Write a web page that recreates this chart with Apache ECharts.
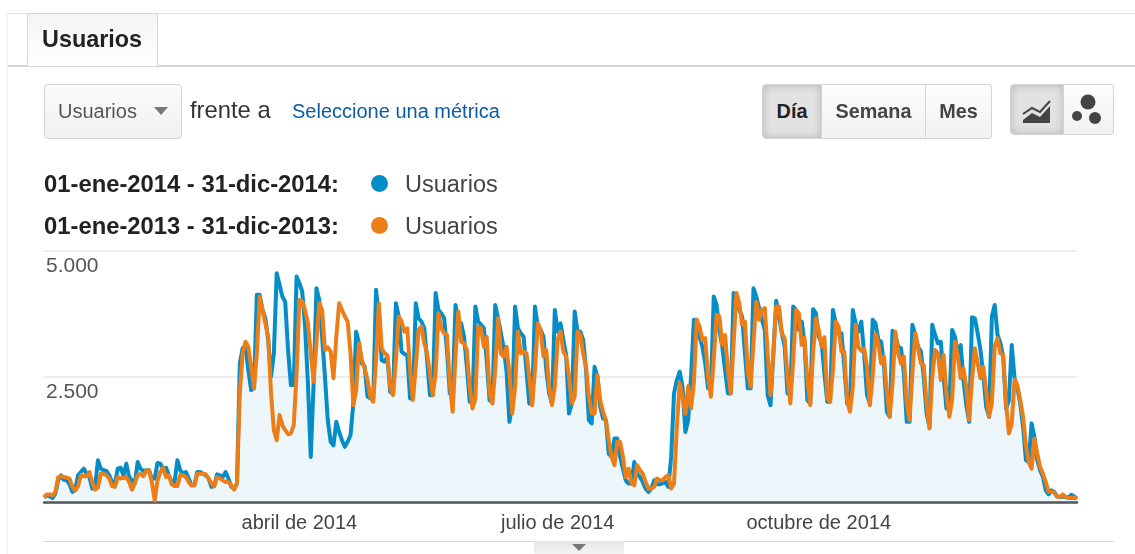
<!DOCTYPE html>
<html>
<head>
<meta charset="utf-8">
<title>Usuarios</title>
<script src="https://cdn.jsdelivr.net/npm/echarts@6/dist/echarts.min.js"></script>
<style>
  html, body { margin: 0; padding: 0; background: #fff; }
  body { width: 1135px; height: 554px; overflow: hidden; position: relative; font-family: "Liberation Sans", Arial, sans-serif; }
  #chart { position: absolute; left: 0; top: 0; width: 1135px; height: 554px; }
  .abs { position: absolute; white-space: nowrap; }
  .line { position: absolute; background: #e0e0e0; }
  .tab { left: 27px; top: 13px; width: 131px; height: 53px; box-sizing: border-box; border: 1px solid #d9d9d9; border-bottom: 0; border-radius: 3px 3px 0 0; background: linear-gradient(#f4f4f4, #fff); z-index: 2; }
  .tabText { left: 42px; top: 25px; font-size: 23.4px; line-height: 28px; font-weight: bold; color: #222; z-index: 3; }
  .select { left: 44px; top: 84px; width: 138px; height: 55px; box-sizing: border-box; border: 1px solid #d4d4d4; border-radius: 4px; background: linear-gradient(#fbfbfb, #f0f0f0); }
  .selectText { left: 58px; top: 99px; font-size: 20px; line-height: 24px; color: #555; }
  .arrow { width: 0; height: 0; border-left: 7px solid transparent; border-right: 7px solid transparent; border-top: 8px solid #777; }
  .frente { left: 190px; top: 96px; font-size: 23.8px; line-height: 28px; color: #333; }
  .link { left: 292px; top: 99px; font-size: 20px; line-height: 24px; color: #0b5ca5; }
  .btn { top: 84px; height: 55px; box-sizing: border-box; border: 1px solid #d4d4d4; background: linear-gradient(#fdfdfd, #f1f1f1); font-size: 19.8px; font-weight: bold; color: #444; text-align: center; line-height: 53px; }
  .btn.on { background: #e2e2e2; box-shadow: inset 0 0 8px #b5b5b5; color: #222; }
  .dateText { left: 44px; font-size: 23.8px; line-height: 28px; font-weight: bold; color: #222; }
  .dot { left: 371px; width: 17px; height: 17px; border-radius: 50%; }
  .legendText { left: 405px; font-size: 23.5px; line-height: 28px; color: #444; }
</style>
</head>
<body>
<div id="chart"></div>

<div class="line" style="left:7px;top:13px;width:1128px;height:1px"></div>
<div class="line" style="left:7px;top:65px;width:1128px;height:2px;background:#d5d5d5"></div>
<div class="line" style="left:7px;top:13px;width:1px;height:541px;background:#f0f0f0"></div>
<div class="abs tab"></div>
<div class="abs tabText">Usuarios</div>

<div class="abs select"></div>
<div class="abs selectText">Usuarios</div>
<div class="abs arrow" style="left:154px;top:107px"></div>
<div class="abs frente">frente a</div>
<div class="abs link">Seleccione una métrica</div>

<div class="abs btn on" style="left:762px;width:60px;border-radius:4px 0 0 4px">Día</div>
<div class="abs btn" style="left:822px;width:104px;border-left:0">Semana</div>
<div class="abs btn" style="left:926px;width:66px;border-left:0;border-radius:0 4px 4px 0">Mes</div>

<div class="abs btn on" style="left:1010px;width:54px;height:51px;border-radius:4px 0 0 4px"></div>
<div class="abs btn" style="left:1064px;width:50px;height:51px;border-left:0;border-radius:0 4px 4px 0"></div>
<svg class="abs" style="left:1010px;top:84px" width="104" height="52">
  <path d="M13 30 L22 24 L30 28 L40 17" fill="none" stroke="#444" stroke-width="2"/>
  <path d="M13 39 L13 36 L22 29 L30 33 L40 22 L40 11 L40 39 Z" fill="#444"/>
  <circle cx="78" cy="18" r="7.5" fill="#444"/>
  <circle cx="67" cy="32" r="5" fill="#444"/>
  <circle cx="85" cy="34" r="6" fill="#444"/>
</svg>

<div class="abs dateText" style="top:170px">01-ene-2014 - 31-dic-2014:</div>
<div class="abs dot" style="top:175px;background:#058dc7"></div>
<div class="abs legendText" style="top:170px">Usuarios</div>
<div class="abs dateText" style="top:212px">01-ene-2013 - 31-dic-2013:</div>
<div class="abs dot" style="top:217px;background:#ed7e17"></div>
<div class="abs legendText" style="top:212px">Usuarios</div>

<div class="line" style="left:44px;top:541px;width:1070px;height:1px;background:#d8d8d8"></div>
<div class="abs" style="left:534px;top:541px;width:90px;height:13px;background:linear-gradient(#e6e6e6,#f3f3f3)"></div>
<div class="abs arrow" style="left:572px;top:544px;border-left-width:7px;border-right-width:7px;border-top-width:7px"></div>

<script>
// usuarios por dia
const usuarios2014 = [
  100, 140, 120, 90, 175, 440, 540, 450, 440, 360,
  210, 255, 540, 605, 670, 570, 505, 275, 310, 840,
  670, 640, 625, 540, 405, 375, 670, 690, 540, 770,
  505, 440, 375, 805, 670, 625, 640, 640, 475, 475,
  785, 770, 670, 690, 540, 405, 405, 840, 640, 570,
  605, 475, 340, 340, 605, 605, 570, 540, 475, 310,
  340, 560, 540, 505, 605, 475, 310, 275, 375, 2760,
  3060, 3105, 2630, 2230, 2265, 4120, 4120, 3820, 3655, 3225,
  2495, 2960, 4550, 4320, 4085, 3985, 3025, 2330, 2330, 4485,
  4350, 4185, 3490, 2365, 905, 2365, 4250, 4020, 3290, 2495,
  1635, 1205, 1135, 1600, 1400, 1235, 1105, 1205, 1335, 1965,
  3390, 3160, 2760, 2695, 2100, 2065, 2030, 4220, 3690, 2825,
  2795, 2895, 2195, 2165, 3955, 3690, 2995, 2945, 2925, 2065,
  2065, 3955, 3655, 3590, 3455, 2825, 2130, 2130, 4155, 3820,
  3755, 3655, 3025, 2165, 2165, 3920, 3590, 3555, 3290, 2695,
  2000, 2000, 3890, 3590, 3525, 3455, 2825, 2030, 2000, 3920,
  3655, 3360, 3060, 2595, 1600, 1965, 3890, 3455, 3360, 3290,
  2630, 1965, 1965, 3890, 3490, 3425, 3290, 2630, 2165, 1965,
  3820, 3390, 3555, 3225, 2925, 1765, 1965, 3790, 3390, 3390,
  3225, 2630, 1635, 1570, 2695, 2495, 1900, 1665, 1635, 970,
  905, 1270, 1270, 905, 670, 440, 375, 375, 805, 570,
  505, 405, 275, 210, 275, 440, 360, 360, 385, 405,
  310, 905, 2165, 2430, 2595, 2295, 1400, 1635, 2495, 3625,
  3625, 3290, 3090, 2760, 2265, 2265, 4085, 3920, 3425, 3090,
  2630, 2165, 2165, 4155, 3985, 3820, 3690, 2960, 2265, 2265,
  4250, 4085, 3855, 3625, 3425, 2130, 1930, 2960, 4005, 3690,
  3360, 3090, 2165, 2165, 3890, 3820, 3425, 3590, 3160, 2030,
  1965, 3835, 3755, 3290, 3190, 2560, 2000, 2000, 3820, 3555,
  3360, 3360, 2695, 1965, 1900, 3820, 3555, 3390, 3590, 2960,
  2130, 1965, 3625, 3555, 3225, 3190, 2725, 1800, 1700, 3410,
  3325, 3090, 3060, 2560, 1600, 1600, 3525, 3325, 3090, 2995,
  2495, 1765, 1500, 3525, 3325, 3160, 3190, 2495, 1865, 1865,
  3425, 3290, 2925, 3125, 2430, 1930, 1600, 3675, 3655, 3360,
  3025, 2530, 1900, 1700, 3690, 3920, 3325, 3160, 2895, 1865,
  2030, 3125, 2465, 2265, 1965, 1500, 840, 805, 1570, 1300,
  840, 640, 505, 240, 160, 240, 210, 120, 110, 120,
  110, 95, 155, 120, 75
];
const usuarios2013 = [
  110, 160, 160, 140, 210, 505, 525, 505, 495, 475,
  310, 240, 320, 540, 520, 520, 605, 405, 255, 295,
  570, 570, 540, 475, 320, 310, 505, 475, 485, 505,
  405, 255, 385, 540, 570, 520, 625, 640, 405, 40,
  440, 605, 690, 505, 540, 360, 325, 325, 540, 540,
  505, 405, 340, 340, 570, 570, 570, 560, 475, 375,
  320, 505, 475, 440, 405, 405, 340, 255, 375, 2165,
  2960, 3190, 3090, 2695, 2265, 2960, 4085, 3820, 3555, 3290,
  2165, 1435, 1235, 1735, 1535, 1435, 1355, 1370, 1535, 2560,
  4020, 3985, 3820, 3555, 2960, 2395, 3160, 3955, 3820, 3025,
  3080, 2995, 2465, 3290, 3955, 3820, 3690, 3590, 2960, 1930,
  2230, 3160, 2825, 2660, 2430, 2100, 2000, 2825, 3955, 3060,
  2960, 2925, 2295, 2130, 2825, 3690, 3590, 3390, 3455, 2630,
  2030, 2695, 3425, 3490, 3160, 2960, 2560, 2130, 2560, 3755,
  3455, 3360, 3325, 2365, 1800, 2895, 3790, 3190, 3160, 3025,
  2295, 1865, 2065, 3490, 3455, 3090, 3290, 2165, 1965, 2630,
  3655, 2960, 2895, 3090, 2560, 1765, 2295, 3390, 2960, 2995,
  2960, 2495, 1930, 2630, 3555, 3425, 2895, 3025, 2295, 1930,
  2295, 3225, 3390, 2995, 2895, 2495, 1965, 2100, 3390, 3325,
  2960, 2695, 2100, 1765, 1765, 2530, 2030, 1800, 1635, 1235,
  905, 740, 1205, 1205, 905, 505, 670, 375, 340, 740,
  640, 570, 405, 275, 275, 310, 475, 440, 440, 505,
  540, 275, 375, 1500, 2365, 2100, 1765, 2310, 1865, 2365,
  3625, 3490, 3225, 3260, 2495, 2100, 2825, 3720, 3690, 3125,
  3325, 2630, 2165, 3160, 4155, 3955, 3525, 3590, 2595, 2295,
  3160, 3985, 3625, 3820, 3855, 2960, 2130, 2960, 3890, 3890,
  3360, 3260, 2495, 1965, 2825, 3820, 3755, 3125, 3260, 2430,
  1930, 2960, 3655, 3425, 3090, 3280, 2065, 2000, 2630, 3590,
  3490, 2995, 2995, 2030, 1800, 2295, 3525, 3080, 3010, 3060,
  2695, 1930, 2495, 3345, 3160, 2760, 2895, 2165, 1700, 2365,
  3390, 2960, 2760, 2895, 1965, 1635, 2560, 3360, 3060, 2760,
  2725, 1965, 1470, 2495, 3025, 2960, 2430, 2925, 2165, 1700,
  2030, 3190, 2895, 2465, 2660, 2295, 1635, 2430, 3060, 2760,
  2465, 2695, 2230, 1700, 1965, 3090, 3260, 2960, 2925, 1965,
  1370, 1570, 2430, 2330, 2030, 1700, 1135, 805, 670, 1270,
  970, 705, 570, 405, 210, 210, 195, 120, 110, 160,
  110, 90, 90, 95, 75
];
const tickDays = [90, 181, 273];
const tickLabels = ['abril de 2014', 'julio de 2014', 'octubre de 2014'];
const yTicks = { 2500: '2.500', 5000: '5.000' };

const days = usuarios2014.map((v, i) => String(i));

let myChart = echarts.init(document.getElementById('chart'), null, { renderer: 'canvas' });
const option = {
  animation: false,
  textStyle: { fontFamily: '"Liberation Sans", Arial, sans-serif' },
  grid: { left: 44, right: 58, top: 250.5, bottom: 51.5, containLabel: false },
  xAxis: {
    type: 'category',
    data: days,
    boundaryGap: false,
    axisLine: { lineStyle: { color: '#555', width: 2.5 } },
    axisTick: { show: false },
    splitLine: { show: false },
    axisLabel: {
      interval: i => tickDays.includes(i),
      formatter: (v, i) => tickLabels[tickDays.indexOf(i)] || '',
      color: '#444',
      fontSize: 20,
      margin: 11,
      hideOverlap: false
    }
  },
  yAxis: {
    type: 'value',
    min: 0,
    max: 5000,
    interval: 2500,
    axisLine: { show: false },
    axisTick: { show: false },
    splitLine: { lineStyle: { color: '#ededed', width: 2 } },
    axisLabel: {
      inside: true,
      margin: 2,
      color: '#555',
      fontSize: 21,
      verticalAlign: 'top',
      padding: [5, 0, 0, 0],
      formatter: v => yTicks[v] || ''
    }
  },
  series: [
    {
      name: 'Usuarios 2014',
      type: 'line',
      data: usuarios2014,
      showSymbol: false,
      lineStyle: { color: '#058dc7', width: 4, join: 'round' },
      itemStyle: { color: '#058dc7' },
      areaStyle: { color: 'rgba(5,141,199,0.1)' }
    },
    {
      name: 'Usuarios 2013',
      type: 'line',
      data: usuarios2013,
      showSymbol: false,
      lineStyle: { color: '#ed7e17', width: 4, join: 'round' },
      itemStyle: { color: '#ed7e17' }
    }
  ]
};
myChart.setOption(option);
</script>
</body>
</html>
